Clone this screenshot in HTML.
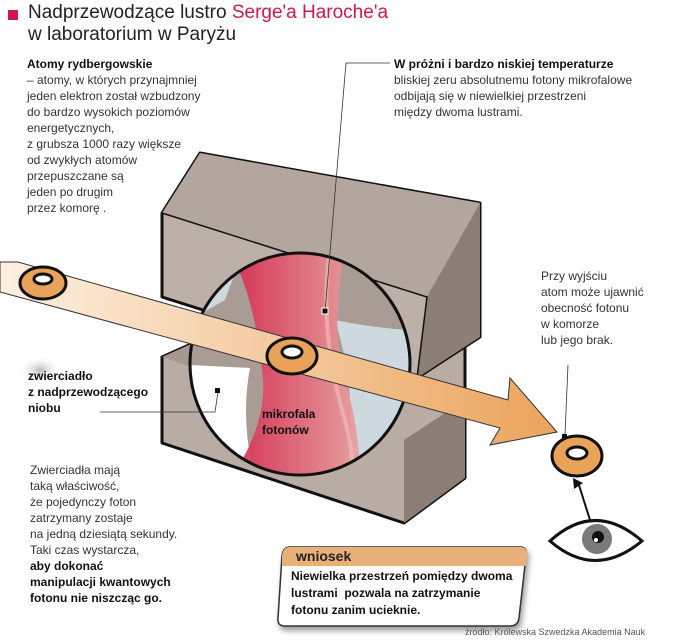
<!DOCTYPE html>
<html><head><meta charset="utf-8"><style>
body{margin:0;background:#fff;width:674px;height:640px;overflow:hidden;font-family:"Liberation Sans","DejaVu Sans",sans-serif;}
svg{position:absolute;left:0;top:0}
.t{position:absolute;font-size:12px;line-height:16px;color:#333;font-family:"Liberation Sans Narrow","Liberation Sans",sans-serif;}
b{color:#111}
</style></head><body>
<svg width="674" height="640" viewBox="0 0 674 640">
<defs>
<linearGradient id="ar" x1="0" x2="1"><stop offset="0" stop-color="#fdf0e2"/><stop offset="1" stop-color="#eaa45c"/></linearGradient>
<linearGradient id="rd" x1="0" x2="1"><stop offset="0" stop-color="#d8294e"/><stop offset="1" stop-color="#eaa0a0"/></linearGradient>
<radialGradient id="sh"><stop offset="0" stop-color="#bbb"/><stop offset="1" stop-color="#fff" stop-opacity="0"/></radialGradient>
<clipPath id="ec"><ellipse cx="300" cy="364" rx="110" ry="111"/></clipPath>
</defs>
<rect x="8" y="10" width="10" height="10" fill="#d0174a"/>
<!-- lower block -->
<polygon points="162,357 200,340 465,348 465,478 404,523 162,443" fill="#b8aca4" stroke="#111" stroke-width="3" stroke-linejoin="round"/>
<polygon points="404,440 465,400 465,478 404,523" fill="#8c7e76"/>
<polygon points="162,357 200,340 240,348 205,372" fill="#a49890"/>
<!-- upper block -->
<polygon points="162,213 200,153 480,203 480,337 417,378 162,297" fill="#bcb0a8" stroke="#111" stroke-width="3" stroke-linejoin="round"/>
<polygon points="162,213 200,153 480,203 427,297" fill="#b2a69e"/>
<polygon points="427,297 480,203 480,337 417,378" fill="#8c7e76"/>
<polyline points="162,213 427,297 417,378" fill="none" stroke="#111" stroke-width="1.5"/>
<!-- opening -->
<ellipse cx="300" cy="364" rx="110" ry="111" fill="#a89c94"/>
<g clip-path="url(#ec)">
<path d="M190,250 L245,250 Q230,285 225,300 L190,320 Z" fill="#cdd9de"/>
<path d="M190,365 L250,368 Q240,420 255,480 L190,480 Z" fill="#fff"/>
<path d="M335,320 Q385,330 420,330 L420,480 L345,480 Q360,400 335,320 Z" fill="#cdd9de"/>
<path d="M230,250 L345,250 Q330,330 345,380 Q360,430 360,480 L230,480 Q270,420 262,370 Q255,300 230,250 Z" fill="url(#rd)" opacity="0.92"/>
<path d="M330,250 Q318,330 345,420 Q355,460 352,480" fill="none" stroke="#f2b8b8" stroke-width="4" opacity="0.7"/>
</g>
<ellipse cx="300" cy="364" rx="110" ry="111" fill="none" stroke="#111" stroke-width="3"/>
<!-- redraw lower block front face bottom to hide ellipse bottom overflow -->
<!-- arrow -->
<polygon points="0,262 0,292 500,428 490,445 557,432 510,378 508,400 18,262" fill="url(#ar)" stroke="#333" stroke-width="1"/>
<!-- rings -->
<g stroke="#111" stroke-width="3">
<ellipse cx="43" cy="283" rx="23" ry="16" fill="#e8a25a"/><ellipse cx="43" cy="279" rx="9" ry="5" fill="#fff"/>
<ellipse cx="292" cy="356" rx="25" ry="18" fill="#e8a25a"/><ellipse cx="292" cy="352" rx="10" ry="6" fill="#fff"/>
<ellipse cx="577" cy="456" rx="25" ry="20" fill="#e8a25a"/><ellipse cx="577" cy="453" rx="10" ry="6" fill="#fff"/>
</g>
<!-- leaders -->
<g stroke="#333" stroke-width="0.8" fill="none">
<polyline points="390,63 346,63 325,312"/>
<polyline points="100,412 215,412 218,392"/>
<line x1="568" y1="365" x2="565" y2="435"/>
</g>
<rect x="322" y="308" width="6" height="6" fill="#111" stroke="#fff"/>
<rect x="215" y="388" width="5" height="5" fill="#111"/>
<rect x="562" y="434" width="5" height="5" fill="#111"/>
<ellipse cx="40" cy="370" rx="22" ry="14" fill="url(#sh)"/>
<!-- eye -->
<line x1="590" y1="520" x2="578" y2="482" stroke="#111" stroke-width="2"/>
<polygon points="573,478 583,483 574,489" fill="#111"/>
<path d="M550,541 Q595,500 642,541 Q595,580 550,541 Z" fill="#fff" stroke="#111" stroke-width="3"/>
<circle cx="597" cy="539" r="15" fill="#7a7a7a"/><circle cx="598" cy="537" r="6" fill="#111"/><circle cx="596" cy="540" r="2" fill="#fff"/>
<!-- box -->
<path d="M290,547 L520,547 Q528,547 526,556 L519,618 Q518,626 510,626 L285,626 Q277,626 278,618 L282,556 Q283,547 290,547Z" fill="#fff" stroke="#333" stroke-width="1.5" style="filter:drop-shadow(2px 4px 3px #999)"/>
<path d="M290,547 L520,547 Q528,547 527,556 L526,566 L282,566 L282,556 Q283,547 290,547Z" fill="#eab07a"/>
</svg>
<div class="t" style="left:28px;top:2px;font-size:19px;line-height:22px;color:#222;font-family:'Liberation Sans Narrow','Liberation Sans',sans-serif">Nadprzewodzące lustro <span style="color:#d0174a">Serge'a Haroche'a</span><br>w laboratorium w Paryżu</div>
<div class="t" style="left:27px;top:56px"><b>Atomy rydbergowskie</b><br>– atomy, w których przynajmniej<br>jeden elektron został wzbudzony<br>do bardzo wysokich poziomów<br>energetycznych,<br>z grubsza 1000 razy większe<br>od zwykłych atomów<br>przepuszczane są<br>jeden po drugim<br>przez komorę .</div>
<div class="t" style="left:394px;top:56px"><b>W próżni i bardzo niskiej temperaturze</b><br>bliskiej zeru absolutnemu fotony mikrofalowe<br>odbijają się w niewielkiej przestrzeni<br>między dwoma lustrami.</div>
<div class="t" style="left:541px;top:268px">Przy wyjściu<br>atom może ujawnić<br>obecność fotonu<br>w komorze<br>lub jego brak.</div>
<div class="t" style="left:28px;top:368px"><b>zwierciadło<br>z nadprzewodzącego<br>niobu</b></div>
<div class="t" style="left:262px;top:406px"><b>mikrofala<br>fotonów</b></div>
<div class="t" style="left:30px;top:462px">Zwierciadła mają<br>taką właściwość,<br>że pojedynczy foton<br>zatrzymany zostaje<br>na jedną dziesiątą sekundy.<br>Taki czas wystarcza,<br><b>aby dokonać<br>manipulacji kwantowych<br>fotonu nie niszcząc go.</b></div>
<div class="t" style="left:296px;top:548px;font-size:14px;font-weight:bold;color:#222">wniosek</div>
<div class="t" style="left:291px;top:568px;line-height:17px"><b>Niewielka przestrzeń pomiędzy dwoma<br>lustrami &nbsp;pozwala na zatrzymanie<br>fotonu zanim ucieknie.</b></div>
<div class="t" style="left:465px;top:624px;font-size:9px;color:#555">źródło: Królewska Szwedzka Akademia Nauk</div>
</body></html>
